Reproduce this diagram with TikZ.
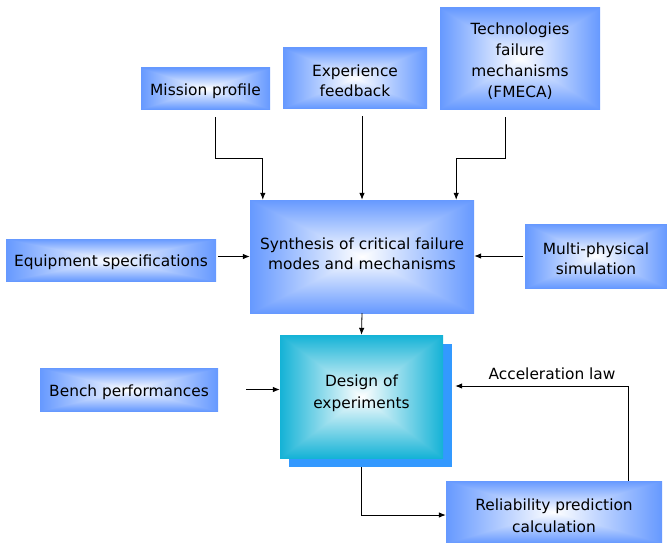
\documentclass[tikz,border=0pt]{standalone}
\usepackage{fontspec}
\setmainfont{DejaVu Sans}
\usetikzlibrary{arrows.meta}
\usetikzlibrary{shadows}
\usetikzlibrary{positioning}

\definecolor{shadowblue}{RGB}{51,153,255}
\newcommand{\boxstrut}{\rule{0pt}{17pt}}

% box gradients: edge colour towards white centre
\pgfdeclarefunctionalshading{bluefade}{\pgfpoint{-50bp}{-50bp}}{\pgfpoint{50bp}{50bp}}{}{
  abs exch abs 2 copy lt {exch} if pop 25 div dup 1 gt {pop 1} if
  dup 0.6 mul 1 exch sub exch 0.4 mul 1 exch sub 1
}
\pgfdeclarefunctionalshading{cyanfade}{\pgfpoint{-50bp}{-50bp}}{\pgfpoint{50bp}{50bp}}{}{
  abs exch abs 2 copy lt {exch} if pop 25 div dup 1 gt {pop 1} if
  dup dup 0.92 mul 1 exch sub 3 1 roll 0.3 mul 1 exch sub exch 0.16 mul 1 exch sub
}

\tikzset{
  infobox/.style={shade, shading=bluefade, inner sep=0pt, align=center, font=\fontsize{15.4}{20}\selectfont},
  designbox/.style={shade, shading=cyanfade, inner sep=0pt, align=center, font=\fontsize{15.4}{22}\selectfont,
    general shadow={fill=shadowblue, shadow xshift=9pt, shadow yshift=-9pt}},
  arr/.style={draw=black, line width=0.8pt, -{Latex[length=7pt,width=5.5pt]}}
}

\begin{document}
\begin{tikzpicture}[x=1pt,y=1pt,yscale=-1,xscale=1]
\useasboundingbox (0,0) rectangle (667,543);

% Text Node
\node [infobox, minimum width=129, minimum height=41] (mission) at (205.5,88.5) {\boxstrut Mission profile};
% Text Node
\node [infobox, minimum width=144, minimum height=60] (exper) at (355,78) {\boxstrut Experience\\feedback};
% Text Node
\node [infobox, minimum width=160, minimum height=101, font=\fontsize{15.4}{20.7}\selectfont] (tech) at (520,58.5) {\boxstrut Technologies\\failure\\mechanisms\\(FMECA)};
% Text Node
\node [infobox, minimum width=224, minimum height=113] (synth) at (362,256.5) {Synthesis of critical failure\\modes and mechanisms\rule[-6pt]{0pt}{0pt}};
% Text Node
\node [infobox, minimum width=210, minimum height=42] (equip) at (111,260) {\boxstrut Equipment specifications};
% Text Node
\node [infobox, minimum width=142, minimum height=64] (multi) at (596,256) {\boxstrut Multi-physical\\simulation};
% Text Node
\node [designbox, minimum width=163, minimum height=123] (design) at (361.5,396.5) {Design of\\experiments\rule[-10pt]{0pt}{0pt}};
% Text Node
\node [infobox, minimum width=178, minimum height=43] (bench) at (129,389.5) {\boxstrut Bench performances};
% Text Node
\node [infobox, minimum width=216, minimum height=62, font=\fontsize{15.4}{22}\selectfont] (reliab) at (554,512) {\rule{0pt}{19pt}Reliability prediction\\calculation};
% Text Node
\node [font=\fontsize{15.4}{20}\selectfont] (accel) at (552,374) {Acceleration law};

% Connection
\draw [arr, shorten <=8pt] ([xshift=9.5pt]mission.south) -- ++(0,49) -| ([xshift=13pt]synth.north west);
% Connection
\draw [arr, shorten <=8pt] (synth.north |- exper.south) -- (synth.north);
% Connection
\draw [arr, shorten <=8pt] ([xshift=-15pt]tech.south) -- ++(0,49) -| ([xshift=-18pt]synth.north east);
% Connection
\draw [arr, shorten <=2pt] (equip.east |- synth.west) -- (synth.west);
% Connection
\draw [arr, shorten <=2pt] (multi.west) -- (multi.west -| synth.east);
% Connection
\draw [arr] (synth.south) -- (design.north);
% Connection
\draw [arr, shorten <=28pt] (bench.east) -- (bench.east -| design.west);
% Connection
\draw [arr] ([yshift=9pt]design.south) |- ([yshift=3pt]reliab.west);
% Connection
\draw [arr] ([xshift=74pt]reliab.north) |- ([xshift=12pt,yshift=-10.5pt]design.east);

\end{tikzpicture}
\end{document}
